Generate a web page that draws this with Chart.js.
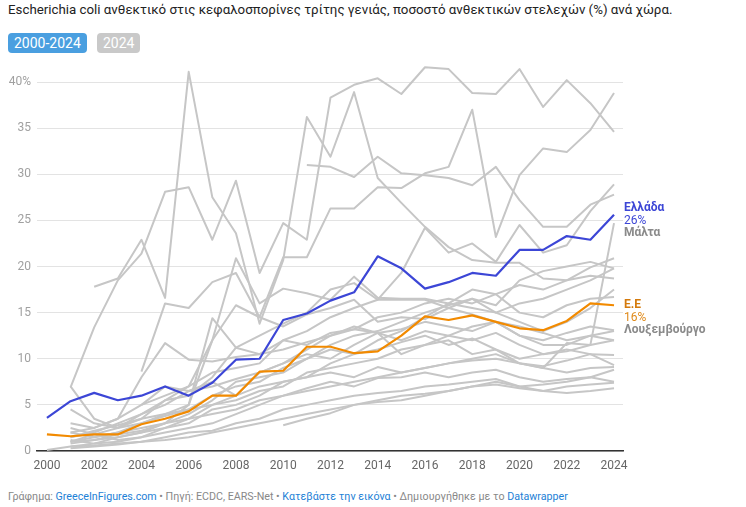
<!DOCTYPE html>
<html>
<head>
<meta charset="utf-8">
<script src="https://cdn.jsdelivr.net/npm/chart.js@4.4.0/dist/chart.umd.min.js"></script>
<style>
body { margin:0; width:746px; height:507px; background:#fff; font-family:Roboto, "Noto Sans", sans-serif; position:relative; overflow:hidden; }
#title { position:absolute; left:8px; top:2px; font-size:13.3px; color:#222; white-space:nowrap; }
.btn { position:absolute; top:33px; height:20px; line-height:20px; border-radius:4px; color:#fff; font-size:14px; padding:0 6px; }
#wrap { position:absolute; left:0; top:60px; width:746px; height:420px; }
.lab { position:absolute; left:624px; font-size:12px; line-height:12.5px; white-space:nowrap; }
#foot { position:absolute; left:8px; top:490px; font-size:10.7px; color:#888; white-space:nowrap; }
#foot span { color:#1d81d6; }
</style>
</head>
<body>
<div id="title">Escherichia coli ανθεκτικό στις κεφαλοσπορίνες τρίτης γενιάς, ποσοστό ανθεκτικών στελεχών (%) ανά χώρα.</div>
<div class="btn" style="left:8px;background:#4a9fe0">2000-2024</div>
<div class="btn" style="left:97px;background:#c9c9c9">2024</div>
<div id="wrap"><canvas id="myChart" width="746" height="420"></canvas></div>
<div class="lab" style="top:201px"><b style="color:#3c46d6">Ελλάδα</b><br><span style="color:#3c46d6">26%</span><br><b style="color:#8a8a8a">Μάλτα</b></div>
<div class="lab" style="top:298px"><b style="color:#d47a0c">Ε.Ε</b><br><span style="color:#e08a1a">16%</span><br><b style="color:#8a8a8a">Λουξεμβούργο</b></div>
<div id="foot">Γράφημα: <span>GreeceInFigures.com</span> • Πηγή: ECDC, EARS-Net • <span>Κατεβάστε την εικόνα</span> • Δημιουργήθηκε με το <span>Datawrapper</span></div>
<script>
var years = [2000,2001,2002,2003,2004,2005,2006,2007,2008,2009,2010,2011,2012,2013,2014,2015,2016,2017,2018,2019,2020,2021,2022,2023,2024];
var xTicks = [2000,2002,2004,2006,2008,2010,2012,2014,2016,2018,2020,2022,2024];
var yTicks = [0,5,10,15,20,25,30,35,40];

var greece = [3.6,5.4,6.3,5.5,6.0,7.0,6.0,7.4,9.9,10.0,14.2,14.9,16.3,17.2,21.1,19.8,17.6,18.3,19.3,19.0,21.8,21.8,23.3,22.9,25.6];
var eu = [1.8,1.6,1.8,1.8,2.9,3.5,4.3,6.0,6.0,8.6,8.7,11.3,11.3,10.6,10.8,12.5,14.6,14.2,14.7,14.0,13.3,13.1,14.1,16.0,15.8];
var malta = [null,null,null,null,5.0,7.0,6.5,7.5,6.0,8.5,9.5,11.0,12.5,13.2,12.8,10.5,11.5,12.0,10.5,11.0,9.5,9.0,11.7,11.5,24.7];
var luxembourg = [null,2.0,2.5,3.5,8.0,11.7,9.9,9.7,10.2,10.5,11.0,11.8,12.5,13.5,12.8,13.2,14.0,13.5,13.0,14.0,12.5,12.0,12.8,13.5,13.1];

var grayA = [null,6.9,13.4,18.5,21.4,28.1,28.6,22.9,29.3,19.3,24.7,22.9,38.3,39.7,40.4,38.7,41.6,41.4,38.8,38.7,41.4,37.3,40.2,37.7,34.6];
var grayB = [null,null,17.8,18.7,22.9,16.6,41.1,27.5,23.6,13.8,20.7,36.2,31.9,38.9,29.6,26.9,24.3,22.1,20.7,20.4,20.4,18.7,18.5,19.9,20.9];
var grayC = [null,null,null,null,null,null,null,null,null,null,null,31.0,30.8,29.7,31.9,30.1,29.9,29.6,28.8,30.8,27.2,24.3,24.3,26.7,27.8];
var grayD = [null,null,null,null,8.6,16.0,15.5,18.3,19.3,14.5,21.0,21.0,26.3,26.3,28.6,28.5,30.1,30.8,37.0,23.2,29.9,32.8,32.4,34.8,38.8];
var grayE = [null,1.5,2.0,3.0,4.0,5.5,6.0,8.0,11.2,10.5,12.0,13.0,14.5,15.5,16.4,19.3,24.2,21.5,22.5,20.5,24.5,21.5,22.3,26.0,28.9];
var grayF = [null,1.0,1.5,2.0,3.0,4.0,5.0,14.4,11.2,12.5,13.8,15.0,17.5,18.2,16.4,16.4,16.4,15.5,16.5,15.8,18.5,19.5,20.0,20.5,19.8];
var grayG = [null,0.8,1.2,1.5,2.0,3.0,5.0,12.0,20.9,16.0,17.6,17.1,16.4,18.9,16.6,16.5,16.5,16.0,17.5,17.0,15.0,14.5,15.8,16.5,16.7];
var grayH = [null,1.0,1.8,2.5,3.5,5.5,7.0,12.0,15.8,14.5,13.5,14.8,15.5,16.4,14.0,14.5,14.3,15.5,14.8,14.0,13.5,12.8,12.0,12.5,12.0];
var grayI = [null,7.0,3.5,2.5,3.0,3.8,4.5,5.0,6.0,7.0,7.5,8.0,9.5,10.5,11.0,11.8,12.5,11.5,12.2,11.0,10.0,10.5,10.8,11.5,12.0];
var grayJ = [0.1,0.5,0.8,1.0,1.5,2.0,2.5,3.0,4.0,5.0,6.0,6.5,7.0,7.5,8.0,8.5,9.0,9.5,9.8,10.0,9.5,9.2,9.8,10.5,10.4];
var grayK = [null,null,null,null,null,null,null,null,null,null,2.8,3.5,4.1,5.0,5.5,6.0,6.2,6.5,7.0,7.2,6.8,6.5,7.0,7.2,7.4];
var grayL = [null,0.5,0.6,0.8,1.0,1.5,2.0,2.2,3.0,3.5,4.5,5.0,5.5,6.0,6.3,6.5,7.0,7.2,7.5,7.8,7.0,6.5,6.3,6.5,6.8];
var grayM = [null,1.0,1.2,1.8,2.2,3.0,3.5,5.0,5.5,6.5,7.0,8.5,9.0,9.5,10.0,11.0,11.5,12.5,12.0,12.8,11.5,10.5,11.0,10.5,9.3];
var grayN = [null,2.0,1.5,2.0,2.5,3.0,4.0,5.5,7.5,8.0,8.5,10.0,11.0,10.5,12.0,13.0,14.5,16.0,15.5,15.0,14.0,13.0,14.0,15.5,17.5];
var grayO = [null,4.5,3.0,2.5,4.0,5.0,6.5,7.0,7.8,8.5,9.5,10.5,10.0,11.5,12.8,12.0,13.0,12.5,13.5,14.0,12.5,11.5,11.5,12.5,13.0];
var grayP = [null,2.5,1.8,1.2,1.5,2.5,3.0,4.5,5.0,6.0,7.5,8.0,8.5,8.0,9.1,8.5,9.0,9.5,10.0,10.5,9.5,9.0,8.5,9.0,9.1];
var grayQ = [null,1.2,0.8,1.5,2.0,2.5,3.5,4.0,4.5,5.5,6.0,6.8,7.5,7.0,7.9,8.0,8.5,8.0,8.5,8.8,8.0,7.5,7.8,8.0,7.5];
var grayR = [null,0.3,0.5,0.7,1.0,1.2,1.5,2.0,2.5,3.0,3.5,4.0,4.5,5.0,5.3,5.5,6.0,6.5,7.0,7.5,7.0,7.2,7.5,8.0,8.8];
var grayS = [null,3.0,2.5,3.5,5.0,6.0,7.0,8.5,9.0,9.5,12.0,11.5,12.8,13.2,14.5,15.0,16.0,16.5,16.0,17.0,18.0,17.5,18.5,19.0,18.7];
var grayT = [null,1.5,2.2,2.8,3.5,4.0,4.5,6.0,7.0,7.5,9.0,10.0,11.5,12.5,13.0,14.0,15.0,15.8,16.5,15.0,16.0,16.5,17.5,18.5,19.8];

var grayLines = [malta, luxembourg, grayA, grayB, grayC, grayD, grayE, grayF, grayG, grayH, grayI, grayJ, grayK,
  grayL, grayM, grayN, grayO, grayP, grayQ, grayR, grayS, grayT];

function pts(arr) {
  return years.map(function(y, i) { return { x: y, y: arr[i] }; });
}

var datasets = [
  { data: pts(greece), borderColor: '#3c46d6', borderWidth: 2.2 },
  { data: pts(eu), borderColor: '#f28a00', borderWidth: 2.2 }
];
grayLines.forEach(function(arr) {
  datasets.push({ data: pts(arr), borderColor: '#c6c6c6', borderWidth: 2 });
});
datasets.forEach(function(d) { d.clip = false; });

var ctx = document.getElementById('myChart').getContext('2d');
var myChart = new Chart(ctx, {
  type: 'line',
  data: { datasets: datasets },
  options: {
    responsive: false,
    animation: false,
    devicePixelRatio: 1,
    layout: { padding: { top: 22, right: 123, left: 0, bottom: 0 } },
    elements: { point: { radius: 0 }, line: { tension: 0, borderJoinStyle: 'round' } },
    plugins: { legend: { display: false }, tooltip: { enabled: false } },
    scales: {
      x: {
        type: 'linear',
        min: 1999.58,
        max: 2024.38,
        afterBuildTicks: function(s) { s.ticks = xTicks.map(function(v) { return { value: v }; }); },
        afterFit: function(s) { s.height = 29; },
        grid: { display: false, drawTicks: false },
        border: { color: '#333', width: 1.5 },
        ticks: { padding: 8, color: '#666', font: { family: 'Roboto', size: 12 }, maxRotation: 0,
          callback: function(v) { return String(v); } }
      },
      y: {
        min: 0,
        max: 40,
        afterBuildTicks: function(s) { s.ticks = yTicks.map(function(v) { return { value: v }; }); },
        afterFit: function(s) { s.width = 37; },
        grid: { color: '#e3e3e3', drawTicks: false, lineWidth: 1 },
        border: { display: false },
        ticks: { padding: 6, color: '#a0a0a0', font: { family: 'Roboto', size: 12 },
          callback: function(v) { return v === 40 ? '40%' : v; } }
      }
    }
  }
});
</script>
</body>
</html>
